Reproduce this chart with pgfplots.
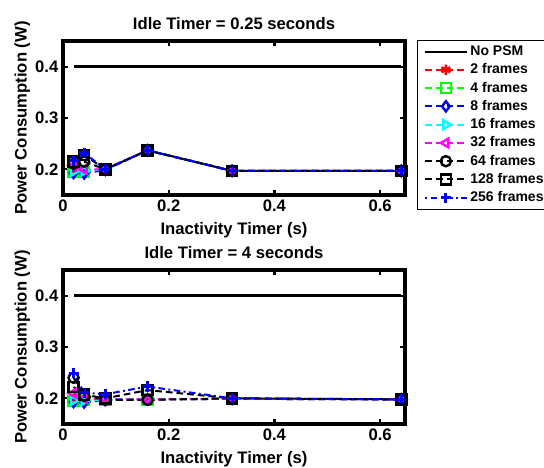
\documentclass[border=0pt]{standalone}
\usepackage{fontspec}
\setmainfont{Liberation Sans}
\usepackage{pgfplots}
\pgfplotsset{compat=1.18}
\definecolor{mgreen}{rgb}{0,1,0}
\definecolor{mcyan}{rgb}{0,1,1}
\definecolor{mmag}{rgb}{1,0,1}
\definecolor{mred}{rgb}{1,0,0}
\definecolor{mblue}{rgb}{0,0,1}

\pgfplotsset{
  panel/.style={
    scale only axis, width=256.5pt, height=115.5pt,
    xmin=0, xmax=0.647, ymin=0.15, ymax=0.45,
    xtick={0,0.2,0.4,0.6}, ytick={0.2,0.3,0.4},
    axis line style={line width=3pt}, tick style={black, line width=1.6pt},
    major tick length=4pt, tick align=inside,
    xtick pos=both, ytick pos=both,
    /pgf/number format/assume math mode=true,
    /pgf/number format/fixed,
    ticklabel style={font=\bfseries\fontsize{12.5}{14}\selectfont},
    label style={font=\bfseries\fontsize{12.5}{14}\selectfont},
    title style={font=\bfseries\fontsize{12.5}{14}\selectfont, yshift=-1pt},
    xlabel={Inactivity Timer (s)}, ylabel={Power Consumption (W)},
    xlabel style={yshift=-1pt}, ylabel style={yshift=-3pt},
    every axis plot/.append style={line width=1.5pt, mark size=3.8pt},
  },
  dsh/.style={dash pattern=on 5pt off 3pt},
  nopsm/.style={black, solid, line width=1.8pt, no marks},
  f2/.style={mred, dsh, mark=asterisk, mark options={solid, line width=1.9pt}},
  f4/.style={mgreen, dsh, mark=square, mark options={solid, line width=1.8pt}},
  f8/.style={mblue, dsh, mark=diamond, mark options={solid, line width=1.8pt}},
  f16/.style={mcyan, dsh, mark=triangle, mark options={solid, line width=1.8pt, rotate=-90}},
  f32/.style={mmag, dsh, mark=triangle, mark options={solid, line width=1.8pt, rotate=90}},
  f64/.style={black, dsh, mark=o, mark options={solid, line width=1.8pt}},
  f128/.style={black, dsh, mark=square, mark options={solid, line width=1.8pt}},
  f256/.style={mblue, dash pattern=on 1.5pt off 2.5pt on 5pt off 2.5pt, mark=+, mark options={solid, line width=2.4pt}},
}

\begin{document}
\begin{tikzpicture}
\begin{axis}[panel, at={(47.25pt,-30.75pt)}, anchor=north west,
  title={Idle Timer = 0.25 seconds},
  legend style={at={(1.035,1.006)}, anchor=north west, draw=black, line width=0.6pt,
    font=\bfseries\fontsize{10.5}{12.5}\selectfont, row sep=0.6pt, inner ysep=2pt, inner xsep=5pt},
  legend cell align=left,
  legend image code/.code={\draw[mark repeat=2,mark phase=2] plot coordinates {(0pt,0pt)(15.5pt,0pt)(31pt,0pt)};}]
\addplot[nopsm] coordinates {(0.02,0.4) (0.64,0.4)};
\addplot[f2] coordinates {(0.02,0.200) (0.04,0.197) (0.08,0.200) (0.16,0.237) (0.32,0.197) (0.64,0.197)};
\addplot[f4] coordinates {(0.02,0.195) (0.04,0.195) (0.08,0.199) (0.16,0.237) (0.32,0.197) (0.64,0.197)};
\addplot[f8] coordinates {(0.02,0.193) (0.04,0.192) (0.08,0.199) (0.16,0.237) (0.32,0.197) (0.64,0.197)};
\addplot[f16] coordinates {(0.02,0.196) (0.04,0.197) (0.08,0.200) (0.16,0.237) (0.32,0.197) (0.64,0.197)};
\addplot[f32] coordinates {(0.02,0.207) (0.04,0.200) (0.08,0.200) (0.16,0.237) (0.32,0.197) (0.64,0.197)};
\addplot[f64] coordinates {(0.02,0.211) (0.04,0.215) (0.08,0.200) (0.16,0.237) (0.32,0.197) (0.64,0.197)};
\addplot[f128] coordinates {(0.02,0.215) (0.04,0.228) (0.08,0.200) (0.16,0.237) (0.32,0.197) (0.64,0.197)};
\addplot[f256] coordinates {(0.02,0.217) (0.04,0.232) (0.08,0.200) (0.16,0.237) (0.32,0.197) (0.64,0.197)};
\legend{No PSM, 2 frames, 4 frames, 8 frames, 16 frames, 32 frames, 64 frames, 128 frames, 256 frames}
\end{axis}

\begin{axis}[panel, at={(47.25pt,-202.5pt)}, anchor=north west,
  title={Idle Timer = 4 seconds}]
\addplot[nopsm] coordinates {(0.02,0.4) (0.64,0.4)};
\addplot[f2] coordinates {(0.02,0.200) (0.04,0.199) (0.08,0.198) (0.16,0.198) (0.32,0.199) (0.64,0.198)};
\addplot[f4] coordinates {(0.02,0.195) (0.04,0.197) (0.08,0.198) (0.16,0.198) (0.32,0.199) (0.64,0.198)};
\addplot[f8] coordinates {(0.02,0.193) (0.04,0.192) (0.08,0.197) (0.16,0.198) (0.32,0.199) (0.64,0.198)};
\addplot[f16] coordinates {(0.02,0.196) (0.04,0.196) (0.08,0.197) (0.16,0.198) (0.32,0.199) (0.64,0.198)};
\addplot[f32] coordinates {(0.02,0.210) (0.04,0.200) (0.08,0.198) (0.16,0.198) (0.32,0.199) (0.64,0.198)};
\addplot[f64] coordinates {(0.02,0.240) (0.04,0.205) (0.08,0.197) (0.16,0.197) (0.32,0.200) (0.64,0.198)};
\addplot[f128] coordinates {(0.02,0.222) (0.04,0.207) (0.08,0.200) (0.16,0.216) (0.32,0.200) (0.64,0.198)};
\addplot[f256] coordinates {(0.02,0.249) (0.04,0.211) (0.08,0.208) (0.16,0.223) (0.32,0.200) (0.64,0.198)};
\end{axis}

\pgfresetboundingbox
\path[use as bounding box] (0pt,0pt) rectangle (408pt,-351pt);
\end{tikzpicture}
\end{document}
